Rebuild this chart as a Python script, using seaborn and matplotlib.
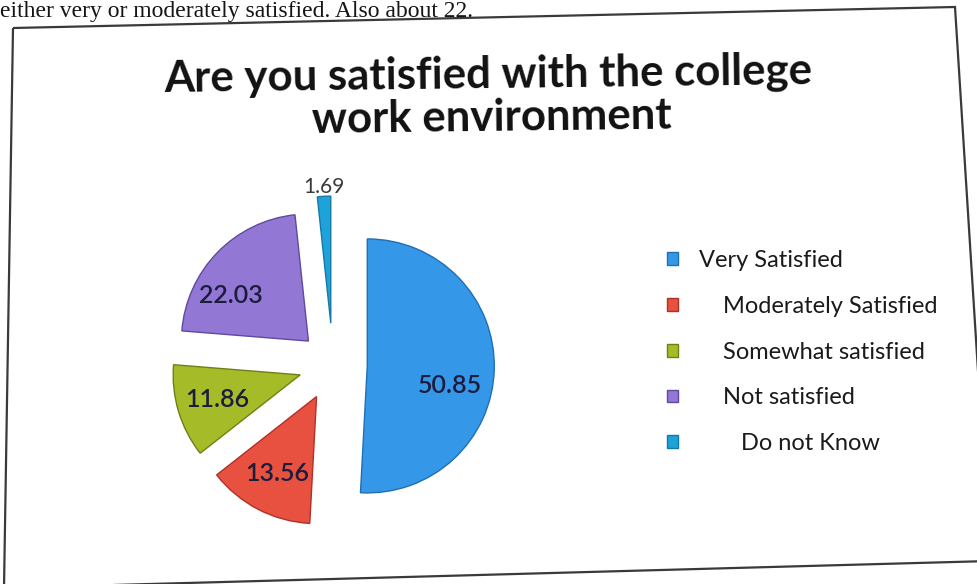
import math
import matplotlib
matplotlib.use("Agg")
import matplotlib.pyplot as plt
import seaborn as sns
from matplotlib.patches import Polygon

# ---- data ----
categories = ["Very Satisfied", "    Moderately Satisfied", "    Somewhat satisfied",
              "    Not satisfied", "       Do not Know"]
values = [50.85, 13.56, 11.86, 22.03, 1.69]
value_labels = ["50.85", "13.56", "11.86", "22.03", "1.69"]
title_lines = ["Are you satisfied with the college", "work environment"]
page_text = "either very or moderately satisfied. Also about 22."

# ---- style ----
colors = ["#3597E8", "#E8513F", "#A6BB28", "#9278D4", "#1EA2DA"]
edge_colors = ["#1F6FB5", "#B0302A", "#6F8015", "#5E4A9E", "#137AA8"]
explode = [0.27, 0.28, 0.27, 0.27, 0.33]
label_dist = [0.67, 0.68, 0.68, 0.71, 1.07]
label_angle_shift = [-12, 0, 0, 14, 0]

sns.set_theme(style="white")
plt.rcParams['font.family'] = ['Lato', 'DejaVu Sans']

W, H = 977, 584
fig = plt.figure(figsize=(W / 100, H / 100), dpi=100)
fig.patch.set_facecolor("white")


def fx(x):
    return x / W


def fy(y):
    return 1 - y / H


# line of document text above the chart
fig.text(fx(0), fy(17), page_text,
         family=["Liberation Serif", "DejaVu Serif"], fontsize=17, va="baseline",
         color="#151515")

# chart frame (photo slightly rotated)
frame = Polygon([(fx(13), fy(28)), (fx(955), fy(7)), (fx(990), fy(561)), (fx(4), fy(588))],
                closed=True, transform=fig.transFigure, fill=False,
                edgecolor="#3a3a3a", lw=1.6)
fig.patches.append(frame)

# pie
R_PX = 127
CX, CY = 333, 365
L = 1.6
side = 2 * L * R_PX
ax = fig.add_axes([fx(CX - side / 2), fy(CY + side / 2), side / W, side / H])
wedges, _ = ax.pie(values, colors=colors, startangle=90, counterclock=False,
                   explode=explode, radius=1, wedgeprops=dict(linewidth=1.0))
for w, ec in zip(wedges, edge_colors):
    w.set_edgecolor(ec)
ax.set_xlim(-L, L)
ax.set_ylim(-L, L)
ax.set_aspect("equal")
ax.axis("off")

for i, (w, lab) in enumerate(zip(wedges, value_labels)):
    th = math.radians((w.theta1 + w.theta2) / 2 + label_angle_shift[i])
    cx, cy = w.center
    d = label_dist[i] * w.r
    x = cx + d * math.cos(th)
    y = cy + d * math.sin(th)
    if i == len(wedges) - 1:
        ax.text(x, y, lab, ha="center", va="center", fontsize=15, color="#3a3a3a")
    else:
        ax.text(x, y, lab, ha="center", va="center", fontsize=18, color="#1c1c3c",
                fontweight="semibold")

# legend
fig.legend(wedges, categories, loc="upper left", bbox_to_anchor=(fx(667), fy(250)),
           frameon=False, fontsize=17, handlelength=0.45, handleheight=0.45,
           handletextpad=0.9, labelspacing=1.05, borderpad=0, borderaxespad=0,
           labelcolor="#1a1a1a")

# title (two lines, slight tilt of the photographed page)
fig.text(fx(488.5), fy(88), title_lines[0], ha="center", va="baseline", fontsize=31.5,
         fontweight="bold", color="#111111", rotation=0.7, rotation_mode="anchor")
fig.text(fx(492), fy(131), title_lines[1], ha="center", va="baseline", fontsize=31.5,
         fontweight="bold", color="#111111", rotation=0.7, rotation_mode="anchor")

fig.savefig("out.png", dpi=100, facecolor="white")
